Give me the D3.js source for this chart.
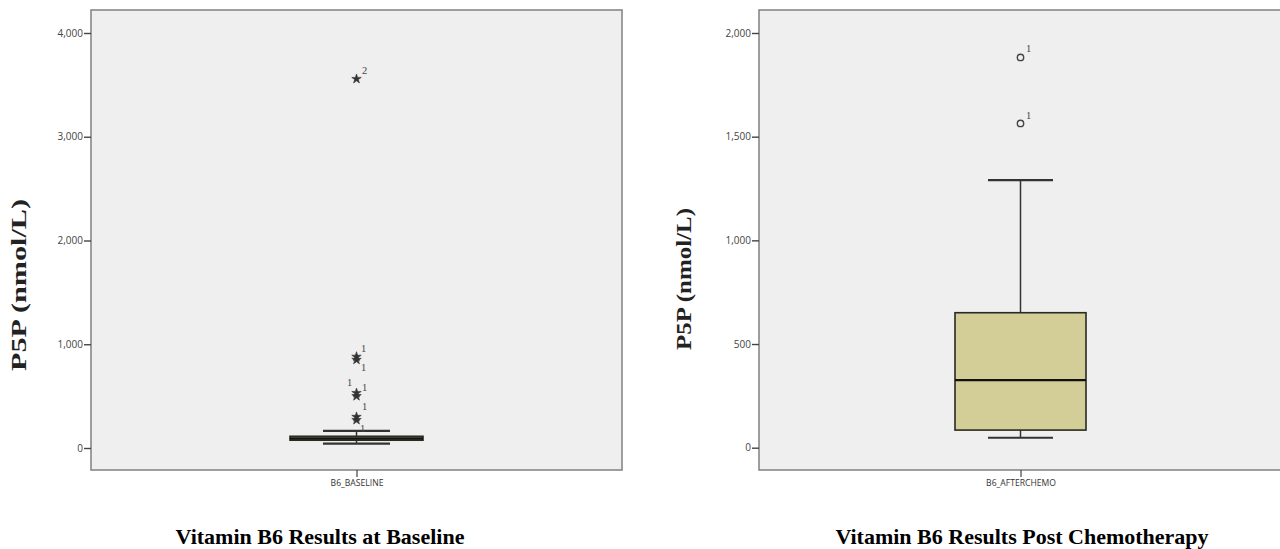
<!DOCTYPE html>
<html>
<head>
<meta charset="utf-8">
<script src="https://cdn.jsdelivr.net/npm/d3@7"></script>
<style>
  html, body { margin: 0; padding: 0; background: #fff; }
  svg { display: block; }
</style>
</head>
<body>
<svg id="chart" width="1280" height="549"></svg>
<script>
// P5P (vitamin B6) box plots, baseline and after chemotherapy
const categories = ["B6_BASELINE", "B6_AFTERCHEMO"];
const titles = ["Vitamin B6 Results at Baseline", "Vitamin B6 Results Post Chemotherapy"];
const yLabel = "P5P (nmol/L)";

// five-number summaries [lower whisker, Q1, median, Q3, upper whisker]
const baselineStats = [42, 75, 92, 113, 165];
const afterChemoStats = [48, 85, 326, 651, 1290];

// flagged cases: value and case label
const baselineExtremes = [880, 850, 530, 500, 300, 270, 3557];
const baselineExtremeLabels = ["1", "1", "1", "1", "1", "1", "2"];
const afterChemoOutliers = [1882, 1564];
const afterChemoOutlierLabels = ["1", "1"];

// axis tick values
const baselineTicks = [0, 1000, 2000, 3000, 4000];
const afterChemoTicks = [0, 500, 1000, 1500, 2000];

const svg = d3.select("#chart");
const fmt = d3.format(",");

const panels = [
  {
    cat: categories[0], title: titles[0], stats: baselineStats,
    pts: baselineExtremes, lbls: baselineExtremeLabels, ticks: baselineTicks,
    frame: { x0: 91, x1: 622, y0: 10, y1: 470 },
    yDomain: [0, 4000], yRange: [448, 33],
    center: 356.5, boxW: 133, capW: 67, marker: "star",
    yLabelX: 19, yLabelY: 285, yLabelLen: 172,
    titleX: 320,
    // label offsets for each flagged case (dx, dy)
    lblOff: [[7, -8], [7, 8], [-7, -11], [8, -9], [8, -10], [6, 9], [8, -8]]
  },
  {
    cat: categories[1], title: titles[1], stats: afterChemoStats,
    pts: afterChemoOutliers, lbls: afterChemoOutlierLabels, ticks: afterChemoTicks,
    frame: { x0: 759, x1: 1300, y0: 10, y1: 470 },
    yDomain: [0, 2000], yRange: [447.7, 33],
    center: 1020.5, boxW: 131, capW: 65, marker: "circle",
    yLabelX: 684, yLabelY: 279, yLabelLen: 142,
    titleX: 1022,
    lblOff: [[8, -9], [8, -8]]
  }
];

panels.forEach(p => {
  const g = svg.append("g");
  const f = p.frame;
  const y = d3.scaleLinear().domain(p.yDomain).range(p.yRange);
  const x = d3.scalePoint().domain([p.cat]).range([p.center, p.center]);

  // plot area
  g.append("rect")
    .attr("x", f.x0).attr("y", f.y0)
    .attr("width", f.x1 - f.x0).attr("height", f.y1 - f.y0)
    .attr("fill", "#efefef")
    .attr("stroke", "#888").attr("stroke-width", 1.6);

  // y axis
  const yAxis = d3.axisLeft(y).tickValues(p.ticks).tickFormat(fmt).tickSize(7).tickPadding(1);
  const ya = g.append("g").attr("transform", `translate(${f.x0},0)`).call(yAxis);
  ya.select(".domain").remove();
  ya.selectAll(".tick line").attr("stroke", "#444").attr("stroke-width", 1.4);
  ya.selectAll(".tick text")
    .attr("fill", "#444").attr("font-family", "'Open Sans', 'DejaVu Sans', sans-serif")
    .attr("font-size", 10);

  // x axis
  const xAxis = d3.axisBottom(x).tickSize(7).tickPadding(3);
  const xa = g.append("g").attr("transform", `translate(0,${f.y1})`).call(xAxis);
  xa.select(".domain").remove();
  xa.selectAll(".tick line").attr("stroke", "#444").attr("stroke-width", 1.2);
  xa.selectAll(".tick text")
    .attr("fill", "#333").attr("font-family", "'Open Sans', 'DejaVu Sans', sans-serif")
    .attr("font-size", 8.6);

  const [lo, q1, med, q3, hi] = p.stats;
  const bx = x(p.cat);

  // whiskers
  const wk = g.append("g").attr("stroke", "#333").attr("stroke-width", 1.5);
  wk.append("line").attr("x1", bx).attr("x2", bx).attr("y1", y(hi)).attr("y2", y(q3));
  wk.append("line").attr("x1", bx).attr("x2", bx).attr("y1", y(q1)).attr("y2", y(lo));
  wk.append("line").attr("x1", bx - p.capW / 2).attr("x2", bx + p.capW / 2).attr("y1", y(hi)).attr("y2", y(hi))
    .attr("stroke-width", 2.2);
  wk.append("line").attr("x1", bx - p.capW / 2).attr("x2", bx + p.capW / 2).attr("y1", y(lo)).attr("y2", y(lo))
    .attr("stroke-width", 2.2);

  // box
  g.append("rect")
    .attr("x", bx - p.boxW / 2).attr("y", y(q3))
    .attr("width", p.boxW).attr("height", y(q1) - y(q3))
    .attr("fill", "#d3ce97").attr("stroke", "#2a2a22").attr("stroke-width", 1.6);
  g.append("line")
    .attr("x1", bx - p.boxW / 2).attr("x2", bx + p.boxW / 2)
    .attr("y1", y(med)).attr("y2", y(med))
    .attr("stroke", "#111").attr("stroke-width", 2.4);

  // outliers / extremes
  p.pts.forEach((v, i) => {
    const py = y(v);
    if (p.marker === "star") {
      g.append("path")
        .attr("transform", `translate(${bx},${py})`)
        .attr("d", d3.symbol().type(d3.symbolStar).size(28)())
        .attr("fill", "#333").attr("stroke", "#333").attr("stroke-width", 0.6);
    } else {
      g.append("circle").attr("cx", bx).attr("cy", py).attr("r", 3.2)
        .attr("fill", "none").attr("stroke", "#444").attr("stroke-width", 1.4);
    }
    const off = p.lblOff[i];
    g.append("text")
      .attr("x", bx + off[0]).attr("y", py + off[1])
      .attr("text-anchor", "middle").attr("dominant-baseline", "central")
      .attr("fill", "#444").attr("font-family", "'Liberation Serif', 'DejaVu Serif', serif")
      .attr("font-size", 10.5)
      .text(p.lbls[i]);
  });

  // y axis title
  g.append("text")
    .attr("transform", `translate(${p.yLabelX},${p.yLabelY}) rotate(-90)`)
    .attr("text-anchor", "middle").attr("dominant-baseline", "central")
    .attr("font-family", "'Liberation Serif', 'Times New Roman', serif")
    .attr("font-weight", "bold").attr("font-size", 21).attr("fill", "#222")
    .attr("textLength", p.yLabelLen).attr("lengthAdjust", "spacingAndGlyphs")
    .text(yLabel);

  // panel title
  g.append("text")
    .attr("x", p.titleX).attr("y", 544)
    .attr("text-anchor", "middle")
    .attr("font-family", "'Liberation Serif', 'Times New Roman', serif")
    .attr("font-weight", "bold").attr("font-size", 22).attr("fill", "#000")
    .text(p.title);
});
</script>
</body>
</html>
